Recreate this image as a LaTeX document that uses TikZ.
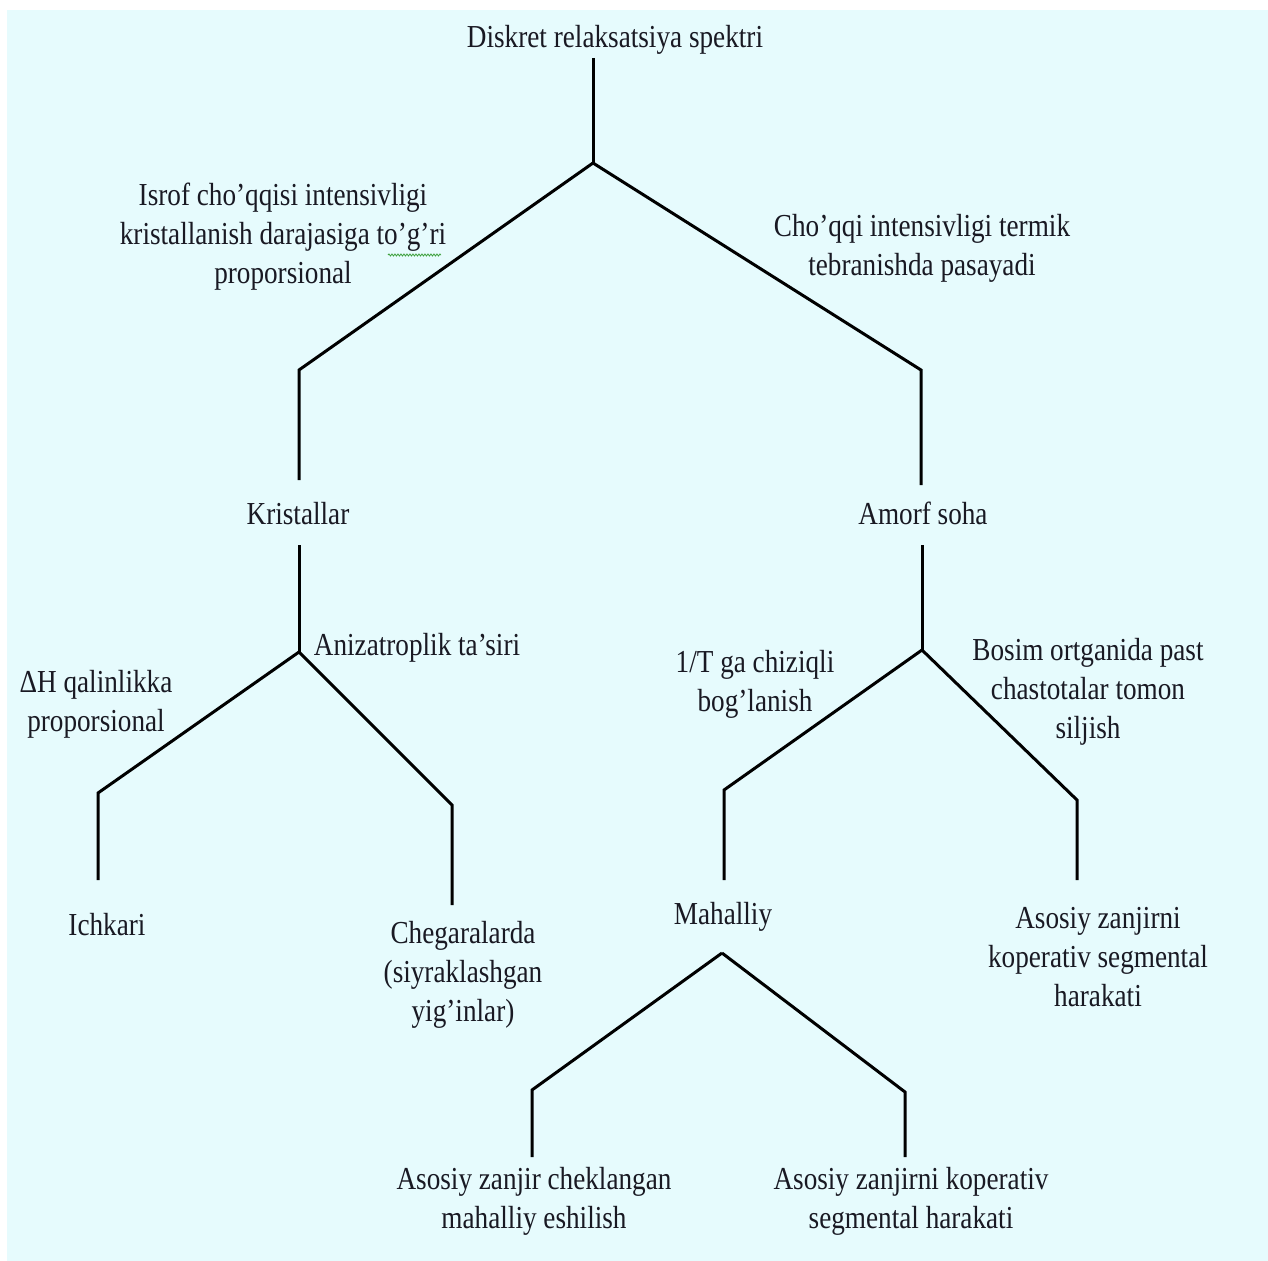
\documentclass[tikz,border=0pt]{standalone}
\usepackage{fontspec}
\setmainfont{Liberation Serif}[FakeStretch=0.85]
\usetikzlibrary{decorations.pathmorphing}
\definecolor{bgc}{RGB}{230,251,253}
\definecolor{spell}{RGB}{60,160,60}
\definecolor{ink}{RGB}{25,25,35}
\begin{document}
\begin{tikzpicture}[x=1pt,y=-1pt,
  lbl/.style={inner sep=0pt,align=center,text=ink,font=\fontsize{32}{39}\selectfont},
  conn/.style={line width=3pt,line join=miter}]
\useasboundingbox (0,0) rectangle (1268,1260);
\fill[white] (0,0) rectangle (1268,1260);
\fill[bgc] (7,10) rectangle (1269,1261);

% texts
\node[lbl] (title) at (615,40) {Diskret relaksatsiya spektri};
\node[lbl] (isrof) at (283,237) {Isrof cho’qqisi intensivligi\\kristallanish darajasiga to’g’ri\\proporsional};
\node[lbl] (choqqi) at (922,248) {Cho’qqi intensivligi termik\\tebranishda pasayadi};
\node[lbl] (kris) at (298,514) {Kristallar};
\node[lbl] (amorf) at (923,513) {Amorf soha};
\node[lbl] (aniz) at (417,648) {Anizatroplik ta’siri};
\node[lbl] (dh) at (96,704) {ΔH qalinlikka\\proporsional};
\node[lbl] (invT) at (755,684) {1/T ga chiziqli\\bog’lanish};
\node[lbl] (bosim) at (1088,692) {Bosim ortganida past\\chastotalar tomon\\siljish};
\node[lbl] (ichk) at (107,925) {Ichkari};
\node[lbl] (cheg) at (463,975) {Chegaralarda\\(siyraklashgan\\yig’inlar)};
\node[lbl] (mah) at (723,917) {Mahalliy};
\node[lbl] (asR) at (1098,957) {Asosiy zanjirni\\koperativ segmental\\harakati};
\node[lbl] (asBL) at (534,1201) {Asosiy zanjir cheklangan\\mahalliy eshilish};
\node[lbl] (asBR) at (911,1201) {Asosiy zanjirni koperativ\\segmental harakati};

% spell-check underline
\draw[spell,line width=0.8pt,decorate,decoration={snake,amplitude=1pt,segment length=3pt}] (388,255) -- (441,255);

% connector points
\coordinate (t0) at (593,58);
\coordinate (j0) at (593,163);
\coordinate (bL0) at (299,370);
\coordinate (eK) at (299,480);
\coordinate (bR0) at (921,370);
\coordinate (eA) at (921,485);

\coordinate (sK) at (299,545);
\coordinate (jK) at (299,652);
\coordinate (bKL) at (98,793);
\coordinate (eI) at (98,880);
\coordinate (bKR) at (452,805);
\coordinate (eC) at (452,905);

\coordinate (sA) at (922,545);
\coordinate (jA) at (922,650);
\coordinate (bAL) at (724,790);
\coordinate (eM) at (724,880);
\coordinate (bAR) at (1077,800);
\coordinate (eR) at (1077,880);

\coordinate (jM) at (722,953);
\coordinate (bML) at (532,1090);
\coordinate (eBL) at (532,1157);
\coordinate (bMR) at (905,1092);
\coordinate (eBR) at (905,1157);

% connectors
\draw[conn] (t0) -- (j0);
\draw[conn] (j0) -- (bL0) -- (eK);
\draw[conn] (j0) -- (bR0) -- (eA);
\draw[conn] (sK) -- (jK);
\draw[conn] (jK) -- (bKL) -- (eI);
\draw[conn] (jK) -- (bKR) -- (eC);
\draw[conn] (sA) -- (jA);
\draw[conn] (jA) -- (bAL) -- (eM);
\draw[conn] (jA) -- (bAR) -- (eR);
\draw[conn] (jM) -- (bML) -- (eBL);
\draw[conn] (jM) -- (bMR) -- (eBR);
\end{tikzpicture}
\end{document}
